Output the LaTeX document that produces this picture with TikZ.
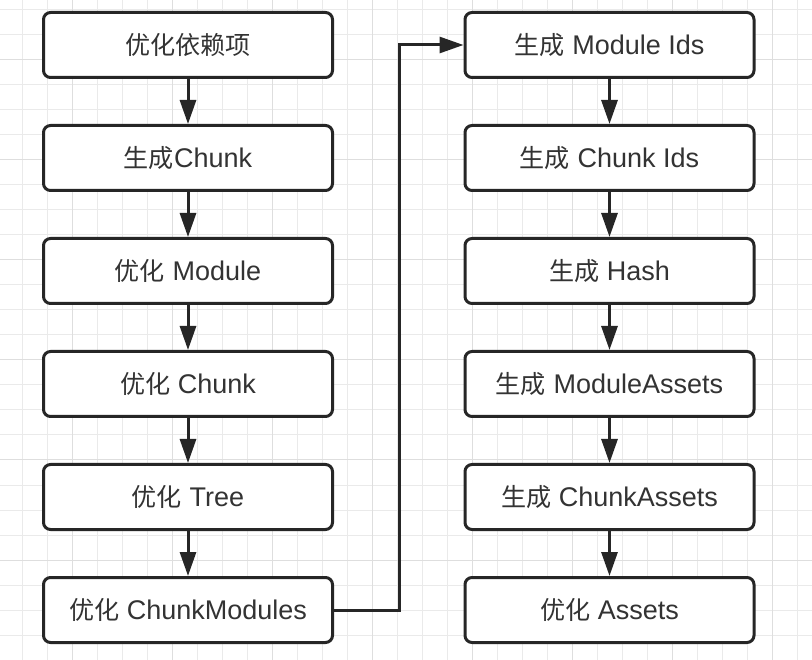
\documentclass[tikz,border=0pt]{standalone}
\usepackage{fontspec}
\setmainfont{Liberation Sans}
\newfontfamily\cjk[Scale=0.93]{Noto Sans CJK SC}
\usetikzlibrary{arrows.meta}
\definecolor{gridminor}{HTML}{EAEAEA}
\definecolor{gridmajor}{HTML}{DEDEDE}
\definecolor{ink}{HTML}{262626}
\definecolor{txt}{HTML}{333333}
\begin{document}
\begin{tikzpicture}[x=1pt,y=1pt,
 box/.style={draw=ink, line width=3pt, rounded corners=7pt, fill=white,
   minimum width=289pt, minimum height=65pt, inner sep=0pt, text=txt,
   font=\fontsize{27}{32}\selectfont},
 conn/.style={draw=ink, line width=3pt, -{Triangle[length=24pt,width=16pt]}},
 gminor/.style={draw=gridminor, line width=1pt},
 gmajor/.style={draw=gridmajor, line width=1pt}]
\useasboundingbox[fill=white] (0,0) rectangle (812,-660);
% grid
\foreach \i in {0,...,32} \draw[gminor] (22.5+25*\i,0) -- ++(0,-660);
\foreach \i in {0,...,26} \draw[gminor] (0,-10-25*\i) -- ++(812,0);
\foreach \i in {0,...,7} \draw[gmajor] (72.5+100*\i,0) -- ++(0,-660);
\foreach \i in {0,...,6} \draw[gmajor] (0,-60-100*\i) -- ++(812,0);
% left column
\node[box] (L1) at (188,-45) {{\cjk 优化依赖项}};
\node[box] (L2) at (188,-158) {{\cjk 生成}Chunk};
\node[box] (L3) at (188,-271) {{\cjk 优化} Module};
\node[box] (L4) at (188,-384) {{\cjk 优化} Chunk};
\node[box] (L5) at (188,-497) {{\cjk 优化} Tree};
\node[box] (L6) at (188,-610) {{\cjk 优化} ChunkModules};
% right column
\node[box] (R1) at (609.5,-45) {{\cjk 生成} Module Ids};
\node[box] (R2) at (609.5,-158) {{\cjk 生成} Chunk Ids};
\node[box] (R3) at (609.5,-271) {{\cjk 生成} Hash};
\node[box] (R4) at (609.5,-384) {{\cjk 生成} ModuleAssets};
\node[box] (R5) at (609.5,-497) {{\cjk 生成} ChunkAssets};
\node[box] (R6) at (609.5,-610) {{\cjk 优化} Assets};
% connectors
\draw[conn] (L1) -- (L2);
\draw[conn] (L2) -- (L3);
\draw[conn] (L3) -- (L4);
\draw[conn] (L4) -- (L5);
\draw[conn] (L5) -- (L6);
\draw[conn] (R1) -- (R2);
\draw[conn] (R2) -- (R3);
\draw[conn] (R3) -- (R4);
\draw[conn] (R4) -- (R5);
\draw[conn] (R5) -- (R6);
\draw[conn, rounded corners=0pt] (L6.east) -- ++(65,0) |- (R1.west);
\end{tikzpicture}
\end{document}
